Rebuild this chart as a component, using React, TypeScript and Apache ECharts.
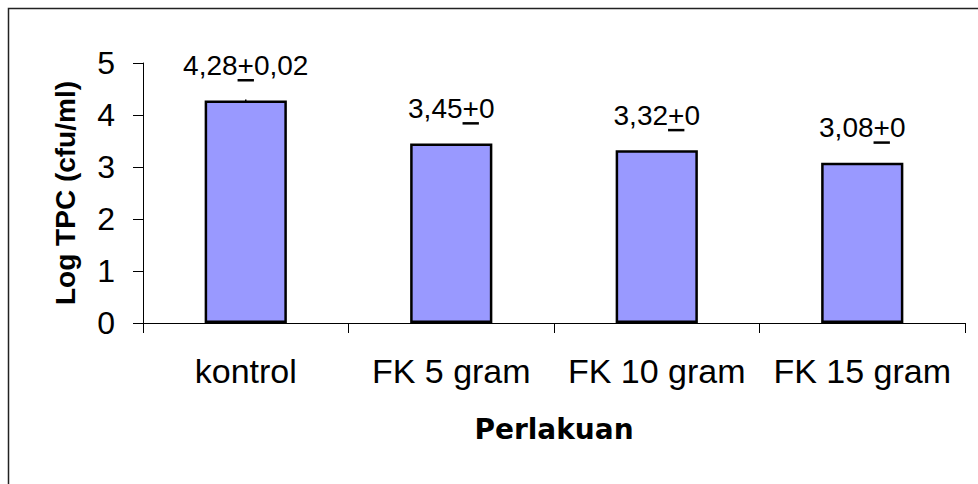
import React, { useEffect, useRef } from "react";
import * as echarts from "echarts";

const categories = ["kontrol", "FK 5 gram", "FK 10 gram", "FK 15 gram"];
const means = [4.28, 3.45, 3.32, 3.08];
const errors = [0.02, 0, 0, 0];
const yTicks = [0, 1, 2, 3, 4, 5];

const FONT = '"Liberation Sans", Arial, sans-serif';
const LABEL_SIZE = 28;

const fmt = (v: number) => String(v).replace(".", ",");

let measureCtx: CanvasRenderingContext2D | null = null;
function measure(text: string): number {
  if (!measureCtx) {
    const c = document.createElement("canvas");
    measureCtx = c.getContext("2d");
  }
  if (!measureCtx) return text.length * LABEL_SIZE * 0.55;
  measureCtx.font = `${LABEL_SIZE}px ${FONT}`;
  return measureCtx.measureText(text).width;
}

export default function App() {
  const ref = useRef<HTMLDivElement>(null);
  useEffect(() => {
    document.body.style.margin = "0";
    if (!ref.current) return;
    const chart = echarts.init(ref.current, undefined, { renderer: "svg" });
    chart.setOption({
      animation: false,
      backgroundColor: "#fff",
      textStyle: { fontFamily: FONT },
      graphic: [
        {
          type: "rect",
          shape: { x: 8.5, y: 8.5, width: 1200, height: 1200 },
          style: { fill: "none", stroke: "#222", lineWidth: 1.5 },
          silent: true,
        },
      ],
      grid: { left: 143, right: 13, top: 63, bottom: 161, containLabel: false },
      xAxis: {
        type: "category",
        data: categories,
        boundaryGap: true,
        name: "Perlakuan",
        nameLocation: "middle",
        nameGap: 92,
        nameTextStyle: {
          fontSize: 28,
          fontWeight: "bold",
          color: "#000",
          fontFamily: '"DejaVu Sans", "Liberation Sans", Arial, sans-serif',
        },
        axisLine: { lineStyle: { color: "#000", width: 1 } },
        axisTick: { show: true, length: 10, alignWithLabel: false, lineStyle: { color: "#000" } },
        axisLabel: { fontSize: 34, color: "#000", margin: 31, fontFamily: FONT, interval: 0 },
        splitLine: { show: false },
      },
      yAxis: {
        type: "value",
        min: yTicks[0],
        max: yTicks[yTicks.length - 1],
        interval: 1,
        name: "Log TPC (cfu/ml)",
        nameLocation: "middle",
        nameGap: 64,
        nameRotate: 90,
        nameTextStyle: { fontSize: 28, fontWeight: "bold", color: "#000", fontFamily: FONT },
        axisLine: { show: true, lineStyle: { color: "#000", width: 1 } },
        axisTick: { show: true, length: 10, inside: false, lineStyle: { color: "#000" } },
        axisLabel: { fontSize: 32, color: "#000", margin: 28, fontFamily: FONT },
        splitLine: { show: false },
      },
      series: [
        {
          type: "bar",
          data: means,
          barWidth: "40%",
          itemStyle: { color: "#9999FF", borderColor: "#000", borderWidth: 2.5 },
          z: 2,
        },
        {
          type: "custom",
          z: 5,
          data: means.map((m, i) => [i, m, errors[i]]),
          renderItem: (params: any, api: any) => {
            const idx = api.value(0);
            const m = api.value(1);
            const e = api.value(2);
            const top = api.coord([idx, m]);
            const lo = api.coord([idx, m - e]);
            const hi = api.coord([idx, m + e]);
            const left = fmt(m);
            const right = fmt(e);
            const full = `${left}+${right}`;
            const wFull = measure(full);
            const wLeft = measure(left);
            const wPlus = measure("+");
            const cx = top[0];
            const baseline = top[1] - 25;
            const startX = cx - wFull / 2;
            return {
              type: "group",
              children: [
                {
                  type: "line",
                  shape: { x1: cx, y1: lo[1], x2: cx, y2: hi[1] },
                  style: { stroke: "#000", lineWidth: 1.5 },
                },
                {
                  type: "text",
                  style: {
                    text: full,
                    x: cx,
                    y: baseline - 10,
                    align: "center",
                    verticalAlign: "middle",
                    fill: "#000",
                    font: `${LABEL_SIZE}px ${FONT}`,
                  },
                },
                {
                  type: "rect",
                  shape: { x: startX + wLeft, y: baseline + 3.5, width: wPlus, height: 2.5 },
                  style: { fill: "#000" },
                },
              ],
            };
          },
        },
      ],
    });
    return () => chart.dispose();
  }, []);
  return (
    <div
      ref={ref}
      style={{ position: "absolute", left: 0, top: 0, width: 978, height: 484 }}
    />
  );
}
